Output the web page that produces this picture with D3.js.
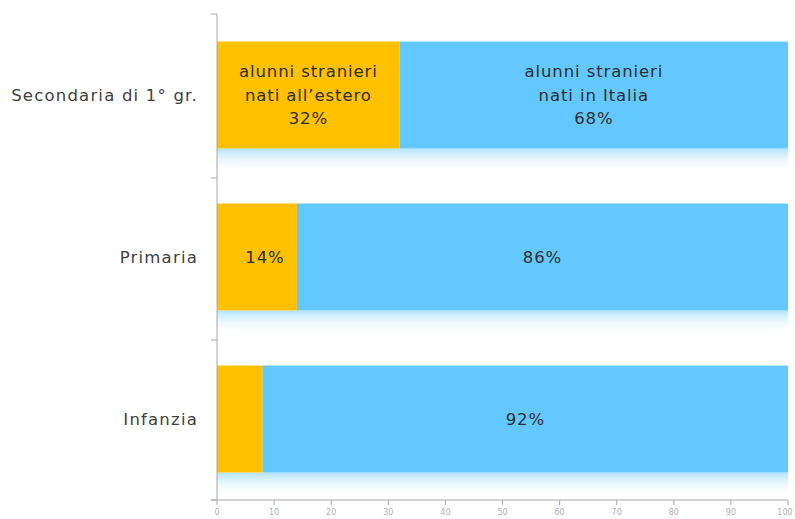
<!DOCTYPE html>
<html><head><meta charset="utf-8">
<script src="https://cdn.jsdelivr.net/npm/d3@7"></script>
<style>body{margin:0;background:#fff}svg{display:block}</style>
</head><body>
<svg id="c" width="795" height="519"></svg>
<script>
const categories = ["Secondaria di 1° gr.", "Primaria", "Infanzia"];
const natiEstero = [32, 14, 8];
const natiItalia = [68, 86, 92];
const labelsEstero = [["alunni stranieri", "nati all\u2019estero", "32%"], ["14%"], []];
const labelsItalia = [["alunni stranieri", "nati in Italia", "68%"], ["86%"], ["92%"]];
const ticks = [0,10,20,30,40,50,60,70,80,90,100];

const svg = d3.select("#c");
const font = "'DejaVu Sans', sans-serif";
const x = d3.scaleLinear().domain([0,100]).range([217, 788]);
const y = d3.scaleBand().domain(categories).range([14, 500]).paddingInner(0.34).paddingOuter(0.17);

const defs = svg.append("defs");
const g = defs.append("linearGradient").attr("id","refl").attr("x1",0).attr("x2",0).attr("y1",0).attr("y2",1);
g.append("stop").attr("offset","0%").attr("stop-color","#9fdcfb").attr("stop-opacity",0.8);
g.append("stop").attr("offset","100%").attr("stop-color","#ffffff").attr("stop-opacity",0);

svg.selectAll("rect.refl").data(categories).join("rect")
  .attr("x", x(0)).attr("width", x(100)-x(0))
  .attr("y", d => y(d)+y.bandwidth()).attr("height", 24)
  .attr("fill","url(#refl)");

const rows = categories.map((c,i)=>({c, e:natiEstero[i], it:natiItalia[i], le:labelsEstero[i], li:labelsItalia[i]}));

svg.selectAll("rect.e").data(rows).join("rect")
  .attr("x", x(0)).attr("y", d=>y(d.c)).attr("width", d=>x(d.e)-x(0)).attr("height", y.bandwidth())
  .attr("fill","#ffc000");
svg.selectAll("rect.i").data(rows).join("rect")
  .attr("x", d=>x(d.e)).attr("y", d=>y(d.c)).attr("width", d=>x(d.e+d.it)-x(d.e)).attr("height", y.bandwidth())
  .attr("fill","#63c8fd");

function drawLabels(lines, cx, cy){
  const lh = 23.5;
  const n = lines.length;
  lines.forEach((t,k)=>{
    svg.append("text").attr("x",cx).attr("y", cy + (k-(n-1)/2)*lh).attr("dy","0.35em")
      .attr("text-anchor","middle").attr("font-family",font).attr("font-size",16.5)
      .attr("letter-spacing","0.9px")
      .attr("fill","#2e2e2e").text(t);
  });
}
rows.forEach(d=>{
  const cy = y(d.c)+y.bandwidth()/2;
  const eCx = d.le.length===1 ? x(d.e/2)+8 : x(d.e/2);
  drawLabels(d.le, eCx, cy);
  drawLabels(d.li, (x(d.e)+x(d.e+d.it))/2, cy);
});

const axisColor = "#a8a8a8";
svg.append("line").attr("x1",x(0)).attr("x2",x(0)).attr("y1",14).attr("y2",500).attr("stroke",axisColor);
const bounds = [14, 178, 340, 500];
svg.selectAll("line.yt").data(bounds).join("line")
  .attr("x1",x(0)-6).attr("x2",x(0)).attr("y1",d=>d).attr("y2",d=>d).attr("stroke",axisColor);
svg.append("line").attr("x1",x(0)-6).attr("x2",x(100)).attr("y1",500).attr("y2",500).attr("stroke",axisColor);
svg.selectAll("line.xt").data(ticks).join("line")
  .attr("x1",d=>x(d)).attr("x2",d=>x(d)).attr("y1",500).attr("y2",505).attr("stroke",axisColor);
svg.selectAll("text.xl").data(ticks).join("text")
  .attr("x",d=>d===100 ? x(d)-3 : x(d)).attr("y",515).attr("text-anchor","middle")
  .attr("font-family",font).attr("font-size",8).attr("fill","#b0b0b0").text(d=>d);

svg.selectAll("text.cat").data(categories).join("text")
  .attr("x",198).attr("y",d=>y(d)+y.bandwidth()/2).attr("dy","0.35em")
  .attr("text-anchor","end").attr("font-family",font).attr("font-size",16.5)
  .attr("letter-spacing","1.2px")
  .attr("fill","#404040").text(d=>d);
</script>
</body></html>
